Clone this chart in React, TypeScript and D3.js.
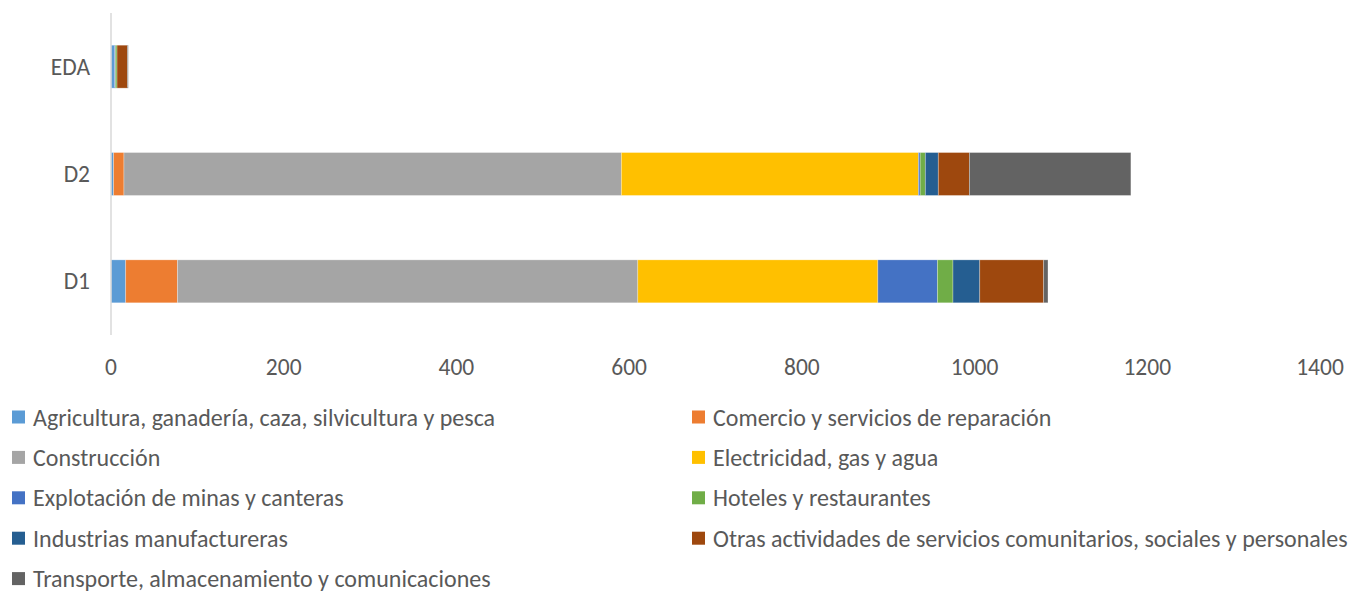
import React from "react";
import * as d3 from "d3";

const categories = ["EDA", "D2", "D1"];
const seriesNames = [
  "Agricultura, ganadería, caza, silvicultura y pesca",
  "Comercio y servicios de reparación",
  "Construcción",
  "Electricidad, gas y agua",
  "Explotación de minas y canteras",
  "Hoteles y restaurantes",
  "Industrias manufactureras",
  "Otras actividades de servicios comunitarios, sociales y personales",
  "Transporte, almacenamiento y comunicaciones",
];
const seriesColors = ["#5B9BD5", "#ED7D31", "#A5A5A5", "#FFC000", "#4472C4", "#70AD47", "#255E91", "#9E480E", "#636363"];
// values per series, in order of categories [EDA, D2, D1]
const agricultura = [4, 3, 17];
const comercio = [0, 12, 60];
const construccion = [0, 576, 533];
const electricidad = [0, 344, 278];
const explotacion = [1, 2, 69];
const hoteles = [2, 6, 18];
const industrias = [0, 15, 31];
const otras = [12, 36, 74];
const transporte = [1, 187, 5];
const xTicks = [0, 200, 400, 600, 800, 1000, 1200, 1400];

const seriesValues = [agricultura, comercio, construccion, electricidad, explotacion, hoteles, industrias, otras, transporte];

const W = 1363;
const H = 592;
const FONT = "Carlito, Calibri, 'Liberation Sans Narrow', 'Open Sans', sans-serif";

export default function App() {
  const x = d3.scaleLinear().domain([0, 1400]).range([111, 1320]);
  const y = d3.scaleBand().domain(categories).range([13, 335]).paddingInner(0.6).paddingOuter(0.3);

  const rows = categories.map((c, ci) => {
    const obj: Record<string, number | string> = { cat: c };
    seriesNames.forEach((s, si) => (obj[s] = seriesValues[si][ci]));
    return obj;
  });
  const stack = d3.stack<any>().keys(seriesNames)(rows as any);

  return (
    <svg width={W} height={H} style={{ position: "absolute", left: 0, top: 0, background: "#fff", fontFamily: FONT }}>
      {stack.map((layer, li) =>
        layer.map((d, di) => {
          const w = x(d[1]) - x(d[0]);
          if (w <= 0) return null;
          return (
            <rect
              key={`${li}-${di}`}
              x={x(d[0])}
              y={y(categories[di])!}
              width={w}
              height={y.bandwidth()}
              fill={seriesColors[li]}
              stroke="rgba(255,255,255,0.35)"
              strokeWidth={0.8}
            />
          );
        })
      )}
      <line x1={x(0)} x2={x(0)} y1={13} y2={335} stroke="#d9d9d9" strokeWidth={1.5} />
      {categories.map((c) => (
        <text key={c} x={90} y={y(c)! + y.bandwidth() / 2} textAnchor="end" dominantBaseline="central" fontSize={23.5} fill="#595959">
          {c}
        </text>
      ))}
      {xTicks.map((t) => (
        <text key={t} x={x(t)} y={367} textAnchor="middle" dominantBaseline="central" fontSize={23.5} fill="#595959">
          {t}
        </text>
      ))}
      {seriesNames.map((s, i) => {
        const col = i % 2;
        const row = Math.floor(i / 2);
        const lx = col === 0 ? 12 : 692;
        const ly = 417 + row * 40.4;
        return (
          <g key={s}>
            <rect x={lx} y={ly - 6.5} width={13} height={13} fill={seriesColors[i]} />
            <text x={lx + 21} y={ly} dominantBaseline="central" fontSize={24} fill="#595959">
              {s}
            </text>
          </g>
        );
      })}
    </svg>
  );
}
